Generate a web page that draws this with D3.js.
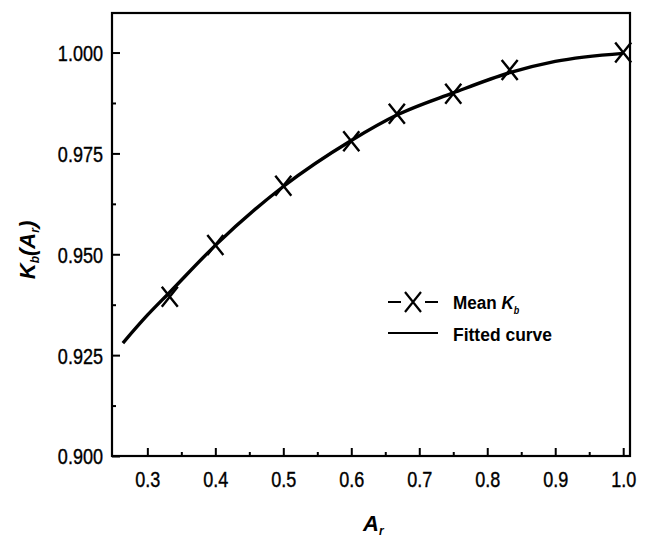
<!DOCTYPE html>
<html>
<head>
<meta charset="utf-8">
<script src="https://cdn.jsdelivr.net/npm/d3@7"></script>
<style>
  body { margin: 0; background: #fff; }
  svg text { font-family: "Liberation Sans", Arial, sans-serif; fill: #000; }
</style>
</head>
<body>
<div id="chart"></div>
<script>
// mean Kb values at each area ratio
const meanAr = [0.333, 0.4, 0.5, 0.6, 0.667, 0.75, 0.833, 1.0];
const meanKb = [0.9395, 0.9523, 0.9670, 0.9780, 0.9848, 0.9898, 0.9957, 1.0000];

// fitted curve
const fitAr = [0.264, 0.3, 0.333, 0.4, 0.5, 0.6, 0.667, 0.75, 0.833, 0.9, 1.0];
const fitKb = [0.9280, 0.9349, 0.9406, 0.9522, 0.9668, 0.9782, 0.9845, 0.9900, 0.9950, 0.9978, 0.9998];

const xTicks = [0.3, 0.4, 0.5, 0.6, 0.7, 0.8, 0.9, 1.0];
const xMinor = [0.35, 0.45, 0.55, 0.65, 0.75, 0.85, 0.95];
const yTicks = [0.900, 0.925, 0.950, 0.975, 1.000];
const yMinor = [0.9125, 0.9375, 0.9625, 0.9875];

const legendLabels = ["Mean ", "Fitted curve"];

const W = 646, H = 538;
const plotL = 112, plotR = 630, plotT = 13, plotB = 456;
const squeeze = "scale(0.82,1)"; // narrow face like the original

const svg = d3.select("#chart").append("svg")
  .attr("width", W)
  .attr("height", H);

const x = d3.scaleLinear().domain([0.248, 1.01]).range([plotL, plotR]);
const y = d3.scaleLinear().domain([0.9, 1.0098]).range([plotB, plotT]);

// axes, ticks pointing inwards
svg.append("g")
  .attr("transform", "translate(0," + plotB + ")")
  .call(d3.axisBottom(x).tickValues(xTicks).tickSize(-8).tickPadding(15).tickFormat(d3.format(".1f")));
svg.append("g")
  .attr("transform", "translate(0," + plotB + ")")
  .call(d3.axisBottom(x).tickValues(xMinor).tickSize(-4).tickFormat(""));

const yAxis = svg.append("g")
  .attr("transform", "translate(" + plotL + ",0)")
  .call(d3.axisLeft(y).tickValues(yTicks).tickSize(-8).tickPadding(11).tickFormat(d3.format(".3f")));
svg.append("g")
  .attr("transform", "translate(" + plotL + ",0)")
  .call(d3.axisLeft(y).tickValues(yMinor).tickSize(-4).tickFormat(""));

svg.selectAll(".domain").remove();
svg.selectAll(".tick line").attr("stroke", "#000").attr("stroke-width", 2);
svg.selectAll(".tick text")
  .style("font-size", "22px")
  .attr("fill", "#000")
  .attr("stroke", "#000").attr("stroke-width", 0.4)
  .attr("transform", squeeze);
yAxis.selectAll(".tick text").attr("dy", "0.36em");

// frame
svg.append("rect")
  .attr("x", plotL).attr("y", plotT)
  .attr("width", plotR - plotL).attr("height", plotB - plotT)
  .attr("fill", "none")
  .attr("stroke", "#000")
  .attr("stroke-width", 2.2);

// fitted curve
const line = d3.line().curve(d3.curveMonotoneX);
svg.append("path")
  .attr("d", line(fitAr.map((a, i) => [x(a), y(fitKb[i])])))
  .attr("fill", "none")
  .attr("stroke", "#000")
  .attr("stroke-width", 3.4);

// X markers
const cross = (cx, cy) => "M" + (cx - 8) + "," + (cy - 10) + "L" + (cx + 8) + "," + (cy + 10) +
  "M" + (cx - 8) + "," + (cy + 10) + "L" + (cx + 8) + "," + (cy - 10);

svg.selectAll("path.mark")
  .data(meanAr)
  .enter()
    .append("path")
    .attr("class", "mark")
    .attr("d", (d, i) => cross(x(d), y(meanKb[i])))
    .attr("stroke", "#000")
    .attr("stroke-width", 2.4)
    .attr("fill", "none");

// legend
const lg = svg.append("g");
lg.append("line").attr("x1", 388).attr("x2", 401).attr("y1", 302).attr("y2", 302)
  .attr("stroke", "#000").attr("stroke-width", 2);
lg.append("line").attr("x1", 425).attr("x2", 438).attr("y1", 302).attr("y2", 302)
  .attr("stroke", "#000").attr("stroke-width", 2);
lg.append("path").attr("d", cross(413, 302)).attr("stroke", "#000").attr("stroke-width", 2.2);
lg.append("line").attr("x1", 388).attr("x2", 438).attr("y1", 333).attr("y2", 333)
  .attr("stroke", "#000").attr("stroke-width", 2);

const t1 = lg.append("text").attr("transform", "translate(453,309) scale(0.9,1)")
  .style("font-size", "19px").style("font-weight", "bold");
t1.append("tspan").text(legendLabels[0]);
t1.append("tspan").text("K").style("font-style", "italic");
t1.append("tspan").text("b").style("font-style", "italic").style("font-size", "10px").attr("dy", 5);

lg.append("text").attr("transform", "translate(453,341) scale(0.92,1)")
  .style("font-size", "19px").style("font-weight", "bold")
  .text(legendLabels[1]);

// axis titles
const xt = svg.append("text").attr("x", 363).attr("y", 531)
  .style("font-size", "22px").style("font-weight", "bold").style("font-style", "italic");
xt.append("tspan").text("A");
xt.append("tspan").text("r").style("font-size", "12px").attr("dy", 4);

const yt = svg.append("text")
  .attr("transform", "translate(35,250) rotate(-90)")
  .attr("text-anchor", "middle")
  .style("font-size", "22px").style("font-weight", "bold").style("font-style", "italic");
yt.append("tspan").text("K");
yt.append("tspan").text("b").style("font-size", "12px").attr("dy", 4);
yt.append("tspan").text("(A").attr("dy", -4);
yt.append("tspan").text("r").style("font-size", "12px").attr("dy", 4);
yt.append("tspan").text(")").attr("dy", -4);
</script>
</body>
</html>
